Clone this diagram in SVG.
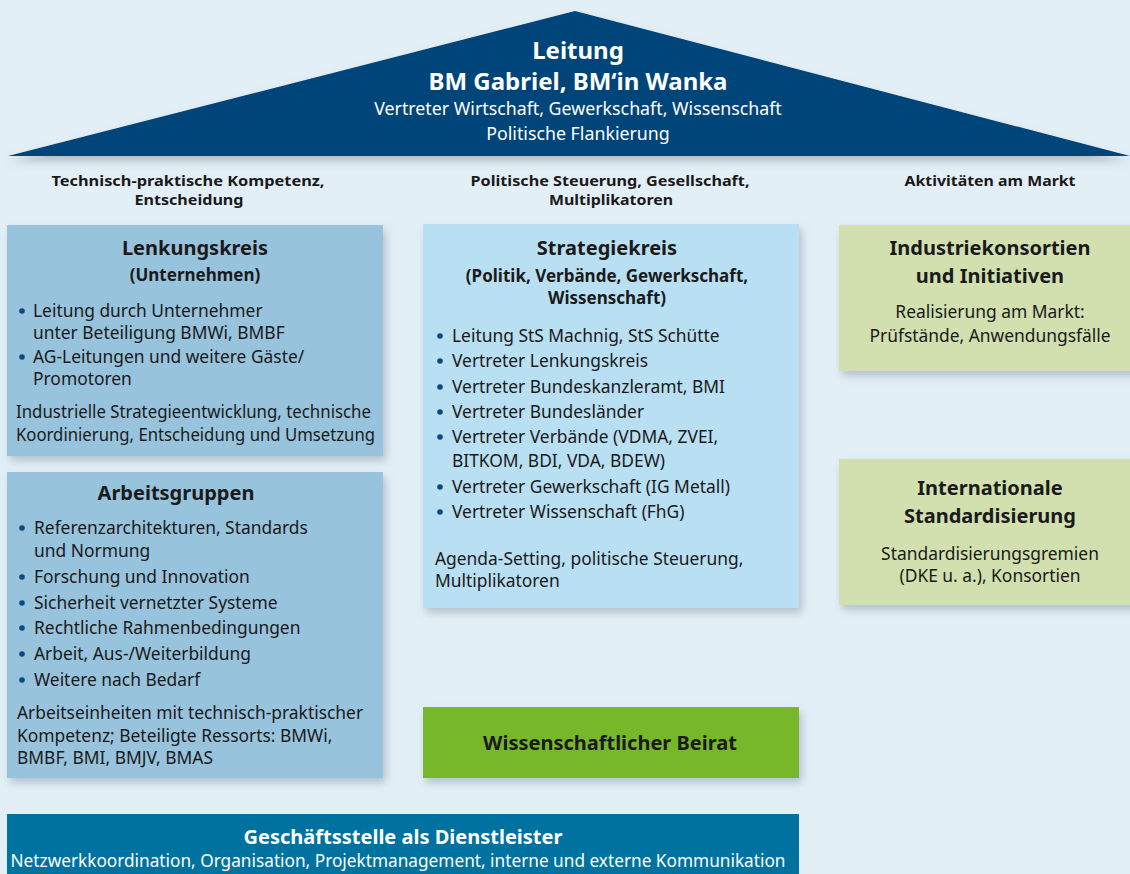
<svg xmlns="http://www.w3.org/2000/svg" width="1130" height="874" viewBox="0 0 1130 874">
<defs>
<filter id="sh" x="-10%" y="-10%" width="125%" height="130%">
<feDropShadow dx="3" dy="5" stdDeviation="4" flood-color="#5a7080" flood-opacity="0.35"/>
</filter>
<filter id="rsh" x="-5%" y="-5%" width="110%" height="130%">
<feDropShadow dx="0" dy="5" stdDeviation="4" flood-color="#5a7080" flood-opacity="0.4"/>
</filter>
<style>
text{font-family:"Noto Sans","Liberation Sans",sans-serif;fill:#1a1a1a}
.t{font-size:20px;font-weight:bold;text-anchor:middle}
.s{font-size:17px;font-weight:bold;text-anchor:middle}
.h{font-size:14.5px;font-weight:bold;text-anchor:middle}
.b{font-size:17.4px}
.c{font-size:17.4px;text-anchor:middle}
.w{fill:#ffffff}
.dot{fill:#0a4a80}
</style>
</defs>
<rect width="1130" height="874" fill="#e3eff7"/>

<g id="leitung">
<polygon points="575,11 1130,156 8,156" fill="#00457a" filter="url(#rsh)"/>
<text class="t w" x="578" y="59" style="font-size:24px">Leitung</text>
<text class="t w" x="578" y="90" style="font-size:24px">BM Gabriel, BM‘in Wanka</text>
<text class="c w" x="578" y="115" style="font-size:17.8px">Vertreter Wirtschaft, Gewerkschaft, Wissenschaft</text>
<text class="c w" x="578" y="140" style="font-size:17.8px">Politische Flankierung</text>
</g>

<g id="headers">
<text class="h" x="188" y="186" textLength="273" lengthAdjust="spacingAndGlyphs">Technisch-praktische Kompetenz,</text>
<text class="h" x="189" y="205" textLength="109" lengthAdjust="spacingAndGlyphs">Entscheidung</text>
<text class="h" x="610" y="186" textLength="279" lengthAdjust="spacingAndGlyphs">Politische Steuerung, Gesellschaft,</text>
<text class="h" x="611" y="205" textLength="124" lengthAdjust="spacingAndGlyphs">Multiplikatoren</text>
<text class="h" x="990" y="186" textLength="171" lengthAdjust="spacingAndGlyphs">Aktivitäten am Markt</text>
</g>

<g id="lenkungskreis">
<rect x="7" y="225" width="376" height="231" fill="#97c3dd" filter="url(#sh)"/>
<text class="t" x="195" y="255">Lenkungskreis</text>
<text class="s" x="195" y="281">(Unternehmen)</text>
<circle class="dot" cx="22" cy="311" r="2.8"/>
<text class="b" x="33" y="317">Leitung durch Unternehmer</text>
<text class="b" x="33" y="339">unter Beteiligung BMWi, BMBF</text>
<circle class="dot" cx="22" cy="357" r="2.8"/>
<text class="b" x="33" y="363">AG-Leitungen und weitere Gäste/</text>
<text class="b" x="33" y="385">Promotoren</text>
<text class="b" x="16" y="418" textLength="355" lengthAdjust="spacingAndGlyphs">Industrielle Strategieentwicklung, technische</text>
<text class="b" x="16" y="441" textLength="359" lengthAdjust="spacingAndGlyphs">Koordinierung, Entscheidung und Umsetzung</text>
</g>

<g id="arbeitsgruppen">
<rect x="7" y="472" width="376" height="306" fill="#97c3dd" filter="url(#sh)"/>
<text class="t" x="176" y="500">Arbeitsgruppen</text>
<circle class="dot" cx="22" cy="528" r="2.8"/>
<text class="b" x="34" y="534">Referenzarchitekturen, Standards</text>
<text class="b" x="34" y="557">und Normung</text>
<circle class="dot" cx="22" cy="577" r="2.8"/>
<text class="b" x="34" y="583">Forschung und Innovation</text>
<circle class="dot" cx="22" cy="603" r="2.8"/>
<text class="b" x="34" y="609">Sicherheit vernetzter Systeme</text>
<circle class="dot" cx="22" cy="628" r="2.8"/>
<text class="b" x="34" y="634">Rechtliche Rahmenbedingungen</text>
<circle class="dot" cx="22" cy="654" r="2.8"/>
<text class="b" x="34" y="660">Arbeit, Aus-/Weiterbildung</text>
<circle class="dot" cx="22" cy="680" r="2.8"/>
<text class="b" x="34" y="686">Weitere nach Bedarf</text>
<text class="b" x="17" y="719">Arbeitseinheiten mit technisch-praktischer</text>
<text class="b" x="17" y="742">Kompetenz; Beteiligte Ressorts: BMWi,</text>
<text class="b" x="17" y="764">BMBF, BMI, BMJV, BMAS</text>
</g>

<g id="strategiekreis">
<rect x="423" y="224" width="376" height="384" fill="#b8dff2" filter="url(#sh)"/>
<text class="t" x="607" y="255">Strategiekreis</text>
<text class="s" x="607" y="282">(Politik, Verbände, Gewerkschaft,</text>
<text class="s" x="607" y="304">Wissenschaft)</text>
<circle class="dot" cx="440" cy="336" r="2.8"/>
<text class="b" x="452" y="342">Leitung StS Machnig, StS Schütte</text>
<circle class="dot" cx="440" cy="361" r="2.8"/>
<text class="b" x="452" y="367">Vertreter Lenkungskreis</text>
<circle class="dot" cx="440" cy="387" r="2.8"/>
<text class="b" x="452" y="393">Vertreter Bundeskanzleramt, BMI</text>
<circle class="dot" cx="440" cy="412" r="2.8"/>
<text class="b" x="452" y="418">Vertreter Bundesländer</text>
<circle class="dot" cx="440" cy="437" r="2.8"/>
<text class="b" x="452" y="443">Vertreter Verbände (VDMA, ZVEI,</text>
<text class="b" x="452" y="467">BITKOM, BDI, VDA, BDEW)</text>
<circle class="dot" cx="440" cy="487" r="2.8"/>
<text class="b" x="452" y="493">Vertreter Gewerkschaft (IG Metall)</text>
<circle class="dot" cx="440" cy="512" r="2.8"/>
<text class="b" x="452" y="518">Vertreter Wissenschaft (FhG)</text>
<text class="b" x="435" y="565">Agenda-Setting, politische Steuerung,</text>
<text class="b" x="435" y="587">Multiplikatoren</text>
</g>

<g id="industriekonsortien">
<rect x="839" y="225" width="300" height="146" fill="#d1e0ae" filter="url(#sh)"/>
<text class="t" x="990" y="255">Industriekonsortien</text>
<text class="t" x="990" y="283">und Initiativen</text>
<text class="c" x="990" y="318">Realisierung am Markt:</text>
<text class="c" x="990" y="342">Prüfstände, Anwendungsfälle</text>
</g>

<g id="standardisierung">
<rect x="839" y="459" width="300" height="146" fill="#d1e0ae" filter="url(#sh)"/>
<text class="t" x="990" y="495">Internationale</text>
<text class="t" x="990" y="523">Standardisierung</text>
<text class="c" x="990" y="560">Standardisierungsgremien</text>
<text class="c" x="990" y="582">(DKE u. a.), Konsortien</text>
</g>

<g id="beirat">
<rect x="423" y="707" width="376" height="71" fill="#76b82a" filter="url(#sh)"/>
<text class="t" x="610" y="750">Wissenschaftlicher Beirat</text>
</g>

<g id="geschaeftsstelle">
<rect x="7" y="814" width="792" height="70" fill="#00729f"/>
<text class="t w" x="403" y="844">Geschäftsstelle als Dienstleister</text>
<text class="c w" x="398" y="867" textLength="775" lengthAdjust="spacingAndGlyphs">Netzwerkkoordination, Organisation, Projektmanagement, interne und externe Kommunikation</text>
</g>

<g id="connectors"></g>
</svg>
